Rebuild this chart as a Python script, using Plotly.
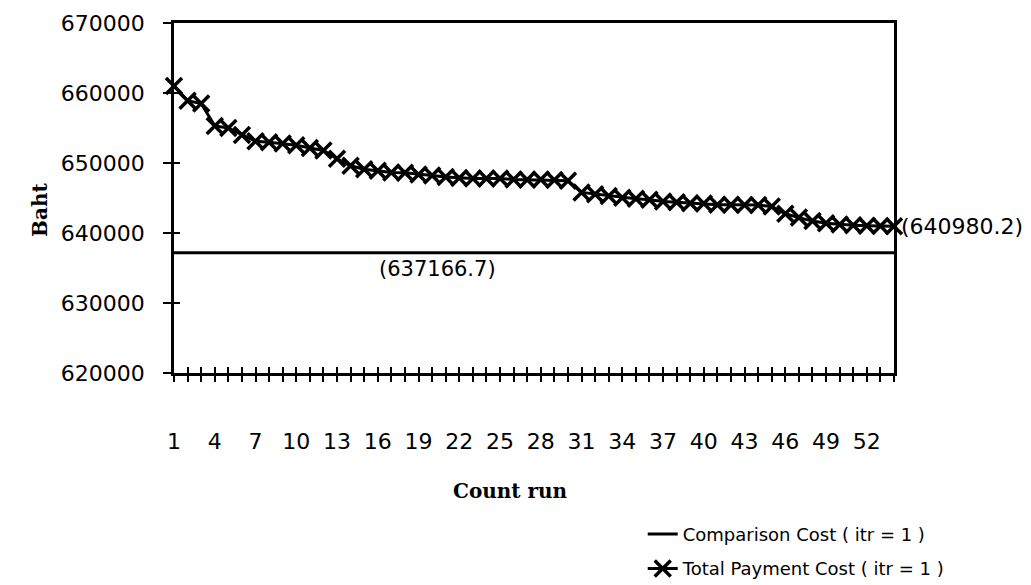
import plotly.graph_objects as go

# ---- data ----
count_run = list(range(1, 55))

total_payment = [
    661000, 658900, 658500, 655300, 655000, 654000, 653100, 652950, 652800, 652550,
    652150, 651800, 650600, 649600, 649100, 648900, 648650, 648600, 648350, 648200,
    648000, 647850, 647800, 647800, 647780, 647650, 647600, 647650, 647580, 647450,
    645800, 645550, 645300, 645050, 644900, 644750, 644500, 644400, 644250, 644200,
    644050, 644050, 644000, 644000, 643800, 642750, 642200, 641700, 641400, 641200,
    641100, 641050, 641000, 640980.2,
]

comparison = [
    637166.7, 637166.7, 637166.7, 637166.7, 637166.7, 637166.7, 637166.7, 637166.7, 637166.7, 637166.7,
    637166.7, 637166.7, 637166.7, 637166.7, 637166.7, 637166.7, 637166.7, 637166.7, 637166.7, 637166.7,
    637166.7, 637166.7, 637166.7, 637166.7, 637166.7, 637166.7, 637166.7, 637166.7, 637166.7, 637166.7,
    637166.7, 637166.7, 637166.7, 637166.7, 637166.7, 637166.7, 637166.7, 637166.7, 637166.7, 637166.7,
    637166.7, 637166.7, 637166.7, 637166.7, 637166.7, 637166.7, 637166.7, 637166.7, 637166.7, 637166.7,
    637166.7, 637166.7, 637166.7, 637166.7,
]

x_tick_labels = [str(k) if (k - 1) % 3 == 0 else "" for k in count_run]
y_ticks = [620000, 630000, 640000, 650000, 660000, 670000]

comparison_label = "(637166.7)"
final_label = "(640980.2)"

SANS = "DejaVu Sans"
SERIF = "DejaVu Serif"

fig = go.Figure()

fig.add_trace(go.Scatter(
    x=count_run, y=comparison, mode="lines",
    name="Comparison Cost ( itr = 1 )",
    line=dict(color="black", width=3),
    xaxis="x2", yaxis="y2", legendgroup="a", cliponaxis=False,
))
fig.add_trace(go.Scatter(
    x=count_run, y=total_payment, mode="lines+markers",
    name="Total Payment Cost ( itr = 1 )",
    line=dict(color="black", width=3),
    marker=dict(symbol="x-thin", size=16, line=dict(color="black", width=3.5)),
    legendgroup="b", cliponaxis=False,
))

axis_common = dict(showgrid=False, zeroline=False, automargin=False)

fig.update_layout(
    width=1031, height=585,
    margin=dict(l=174, r=137, t=23, b=212, autoexpand=False),
    paper_bgcolor="white", plot_bgcolor="white",
    font=dict(family=SANS, color="black"),
    xaxis=dict(
        range=[1, 54], tickmode="array", tickvals=count_run, ticktext=x_tick_labels,
        ticks="outside", ticklen=6, tickwidth=2, tickcolor="black",
        showline=True, linewidth=2.5, linecolor="black", mirror=True,
        tickfont=dict(family=SANS, size=22, color="black"),
        ticklabelstandoff=41, **axis_common,
    ),
    xaxis2=dict(
        range=[1, 54], overlaying="x", anchor="y2", side="bottom",
        tickmode="array", tickvals=count_run, showticklabels=False,
        ticks="inside", ticklen=6, tickwidth=2, tickcolor="black",
        showline=False, **axis_common,
    ),
    yaxis=dict(
        range=[620000, 670000], tickmode="array", tickvals=y_ticks, tickformat="d",
        ticks="outside", ticklen=8, tickwidth=2, tickcolor="black",
        showline=True, linewidth=2.5, linecolor="black", mirror=True,
        tickfont=dict(family=SANS, size=22, color="black"),
        ticklabelstandoff=14, **axis_common,
    ),
    yaxis2=dict(
        range=[620000, 670000], overlaying="y", anchor="x2", side="left",
        tickmode="array", tickvals=y_ticks, showticklabels=False,
        ticks="inside", ticklen=6, tickwidth=2, tickcolor="black",
        showline=False, **axis_common,
    ),
    showlegend=True,
    legend=dict(
        x=0.651, y=-0.611, xanchor="left", yanchor="bottom",
        font=dict(family=SANS, size=18, color="black"),
        bgcolor="rgba(0,0,0,0)", traceorder="grouped", tracegroupgap=8,
    ),
)

fig.add_annotation(
    x=20.4, y=comparison[19], xref="x", yref="y", text=comparison_label,
    showarrow=False, yanchor="top", yshift=-2,
    font=dict(family=SANS, size=21, color="black"),
)
fig.add_annotation(
    x=count_run[-1], y=total_payment[-1], xref="x", yref="y", text=final_label,
    showarrow=False, xanchor="left", xshift=5,
    font=dict(family=SANS, size=22, color="black"),
)
fig.add_annotation(
    x=-0.186, y=0.466, xref="paper", yref="paper", text="<b>Baht</b>",
    textangle=-90, showarrow=False, xanchor="center", yanchor="middle",
    font=dict(family=SERIF, size=20, color="black"),
)
fig.add_annotation(
    x=0.468, y=-0.337, xref="paper", yref="paper", text="<b>Count run</b>",
    showarrow=False, xanchor="center", yanchor="middle",
    font=dict(family=SERIF, size=20, color="black"),
)

fig.write_html("out.html")
